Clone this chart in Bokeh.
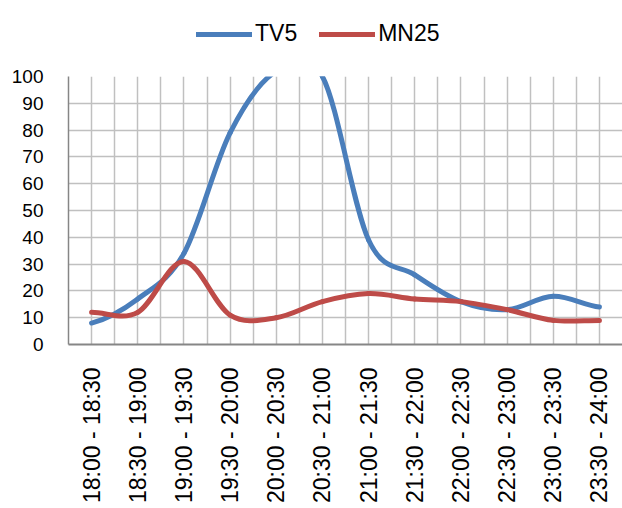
import math
from bokeh.plotting import figure
from bokeh.layouts import column
from bokeh.models import (ColumnDataSource, FixedTicker, Legend, LegendItem, Range1d)
from bokeh.embed import file_html
from bokeh.resources import INLINE

categories = ["18:00 - 18:30", "18:30 - 19:00", "19:00 - 19:30", "19:30 - 20:00",
              "20:00 - 20:30", "20:30 - 21:00", "21:00 - 21:30", "21:30 - 22:00",
              "22:00 - 22:30", "22:30 - 23:00", "23:00 - 23:30", "23:30 - 24:00"]
tv5 = [8, 17, 34, 79, 102, 100, 39, 26, 16, 13, 18, 14]
mn25 = [12, 12, 31, 11, 10, 16, 19, 17, 16, 13, 9, 9]
y_ticks = [0, 10, 20, 30, 40, 50, 60, 70, 80, 90, 100]

FONT = "Liberation Sans"
BLUE = "#4A7EBB"
RED = "#BE4B48"


def smooth_source(vals):
    n = len(vals)
    xs = list(range(n))
    tang = []
    for i in range(n):
        if i == 0:
            tang.append((vals[1] - vals[0]) / 2.0)
        elif i == n - 1:
            tang.append((vals[-1] - vals[-2]) / 2.0)
        else:
            tang.append((vals[i + 1] - vals[i - 1]) / 2.0)
    d = dict(x0=[], y0=[], x1=[], y1=[], cx0=[], cy0=[], cx1=[], cy1=[])
    for i in range(n - 1):
        d["x0"].append(xs[i]); d["y0"].append(vals[i])
        d["x1"].append(xs[i + 1]); d["y1"].append(vals[i + 1])
        d["cx0"].append(xs[i] + 1 / 3); d["cy0"].append(vals[i] + tang[i] / 3)
        d["cx1"].append(xs[i + 1] - 1 / 3); d["cy1"].append(vals[i + 1] - tang[i + 1] / 3)
    return ColumnDataSource(d)


# ---- legend strip on top (series drawn outside its visible range) ----
pl = figure(width=622, height=66, output_backend="svg", toolbar_location=None,
            x_range=Range1d(-1, -0.5), y_range=Range1d(-1, -0.5),
            x_axis_location=None, y_axis_location=None,
            min_border_left=68, min_border_right=0, min_border_top=0, min_border_bottom=0)
pl.outline_line_color = None
pl.xgrid.visible = False
pl.ygrid.visible = False
idx = list(range(len(categories)))
l1 = pl.line(x=idx, y=tv5, line_color=BLUE, line_width=5, line_cap="round")
l2 = pl.line(x=idx, y=mn25, line_color=RED, line_width=5, line_cap="round")
legend = Legend(items=[LegendItem(label="TV5", renderers=[l1]),
                       LegendItem(label="MN25", renderers=[l2])],
                orientation="horizontal", location=(128, 19),
                label_text_font=FONT, label_text_font_size="23px",
                label_text_color="black",
                glyph_width=56, glyph_height=26, label_standoff=3, spacing=22,
                padding=0, margin=0, border_line_color=None,
                background_fill_alpha=0)
pl.add_layout(legend, "center")

# ---- main chart ----
p = figure(width=622, height=442, output_backend="svg", toolbar_location=None,
           x_range=Range1d(-0.5, 11.5), y_range=Range1d(0, 100),
           min_border_left=68, min_border_right=0, min_border_top=10,
           min_border_bottom=164)
p.outline_line_color = None
p.background_fill_color = "white"

p.xgrid.ticker = FixedTicker(ticks=[i * 0.5 - 0.5 for i in range(26)])
p.ygrid.ticker = FixedTicker(ticks=y_ticks)
for g in (p.xgrid, p.ygrid):
    g.grid_line_color = "#c0c0c0"
    g.grid_line_width = 1.5

p.xaxis.ticker = FixedTicker(ticks=idx)
p.xaxis.major_label_overrides = {i: c for i, c in enumerate(categories)}
p.xaxis.major_label_orientation = math.pi / 2
p.xaxis.major_label_text_font = FONT
p.xaxis.major_label_text_font_size = "23px"
p.xaxis.major_label_text_color = "black"
p.xaxis.major_label_standoff = 23
p.xaxis.major_tick_out = 0
p.xaxis.major_tick_in = 0
p.xaxis.minor_tick_out = 0
p.xaxis.minor_tick_in = 0
p.xaxis.major_tick_line_color = None
p.xaxis.minor_tick_line_color = None
p.xaxis.axis_line_color = "#868686"
p.xaxis.axis_line_width = 2

p.yaxis.ticker = FixedTicker(ticks=y_ticks)
p.yaxis.major_label_text_font = FONT
p.yaxis.major_label_text_font_size = "19px"
p.yaxis.major_label_text_color = "black"
p.yaxis.major_label_standoff = 25
p.yaxis.major_tick_out = 0
p.yaxis.major_tick_in = 0
p.yaxis.minor_tick_out = 0
p.yaxis.minor_tick_in = 0
p.yaxis.major_tick_line_color = None
p.yaxis.minor_tick_line_color = None
p.yaxis.axis_line_color = "#868686"
p.yaxis.axis_line_width = 1.5

p.bezier(x0="x0", y0="y0", x1="x1", y1="y1", cx0="cx0", cy0="cy0",
         cx1="cx1", cy1="cy1", source=smooth_source(tv5),
         line_color=BLUE, line_width=5, line_cap="round")
p.bezier(x0="x0", y0="y0", x1="x1", y1="y1", cx0="cx0", cy0="cy0",
         cx1="cx1", cy1="cy1", source=smooth_source(mn25),
         line_color=RED, line_width=5, line_cap="round")

layout = column(pl, p, spacing=0)
open("out.html", "w").write(file_html(layout, INLINE))
